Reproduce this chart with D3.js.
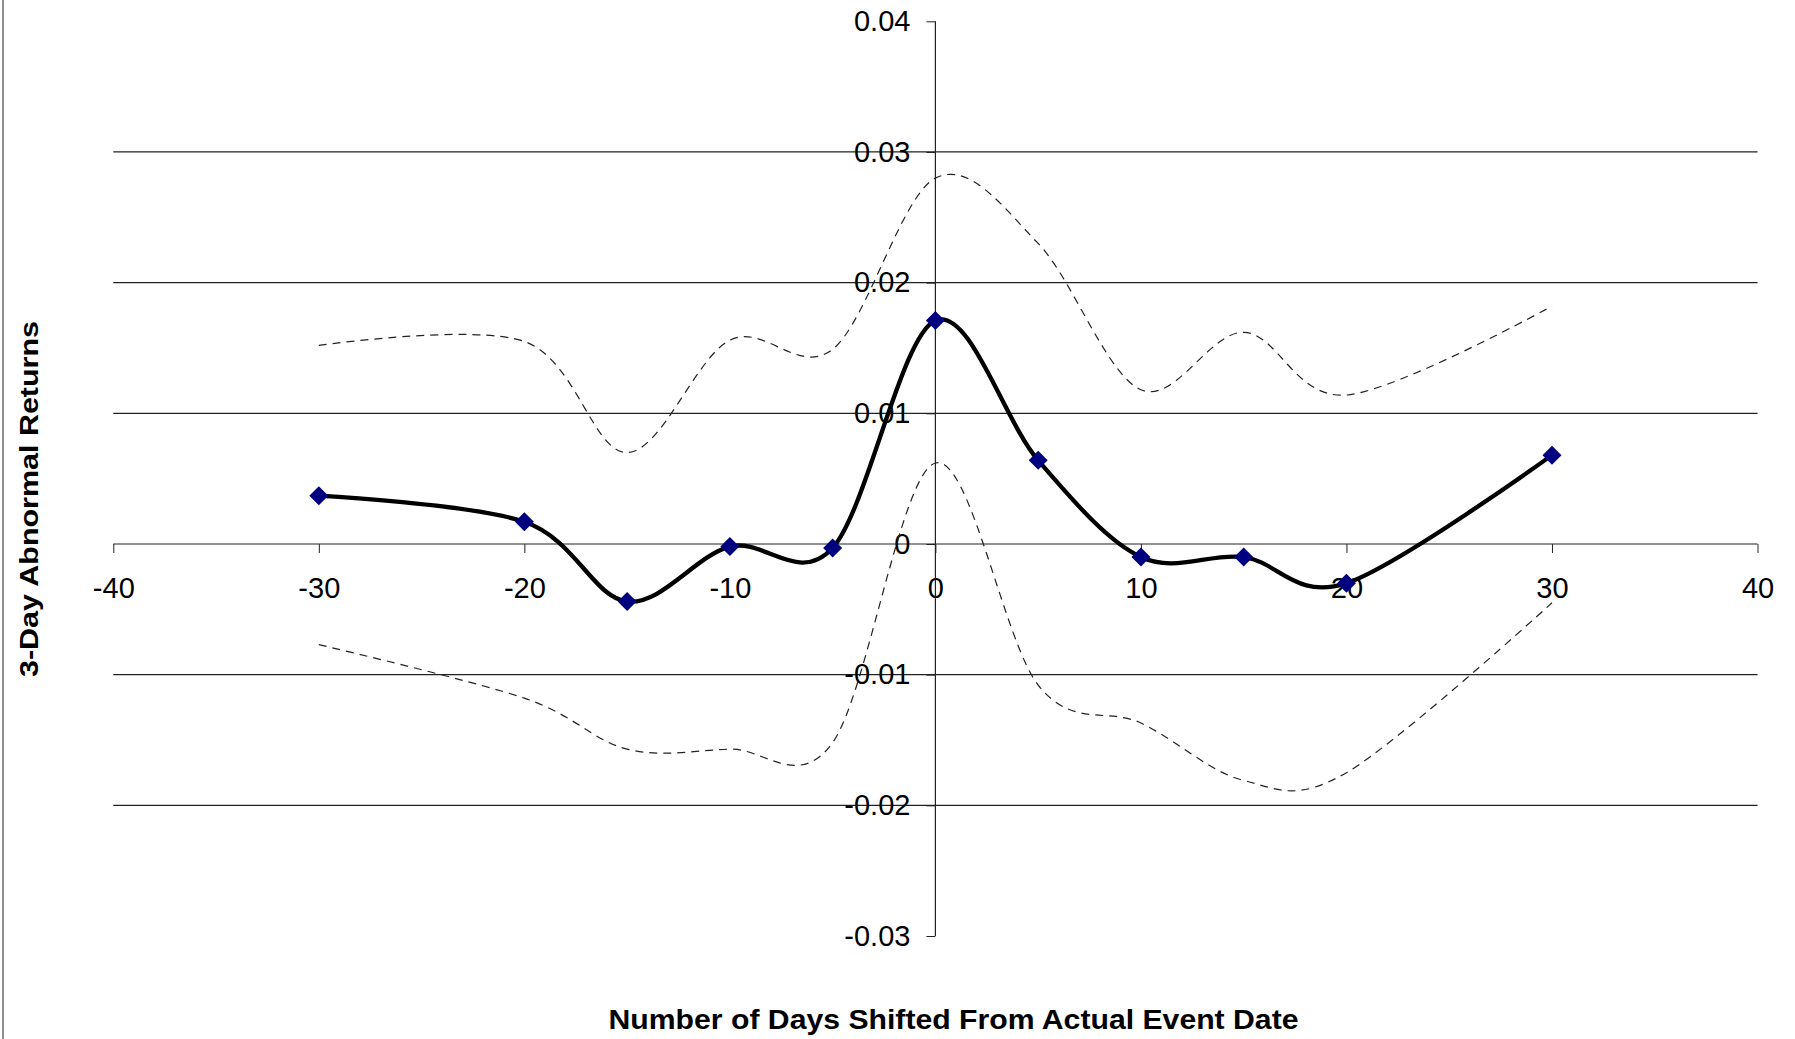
<!DOCTYPE html>
<html>
<head>
<meta charset="utf-8">
<script src="https://cdn.jsdelivr.net/npm/d3@7"></script>
<style>
    body { margin: 0; background: white; }
    text { font-family: Arial, "Liberation Sans", sans-serif; fill: black; }
</style>
</head>
<body>
<div id="chart"></div>
<script>
// days shifted from the event date
let days = [-30, -20, -15, -10, -5, 0, 5, 10, 15, 20, 30];
// 3-day abnormal returns (solid line with markers)
let returns = [0.0037, 0.0017, -0.0044, -0.0002, -0.0003, 0.0171, 0.0064, -0.0010, -0.0010, -0.0030, 0.0068];
// upper and lower bands (dashed)
let upper = [0.0152, 0.0155, 0.0070, 0.0156, 0.0149, 0.0280, 0.0230, 0.0118, 0.0162, 0.0114, 0.0182];
let lower = [-0.0077, -0.0118, -0.0157, -0.0157, -0.0152, 0.0062, -0.0108, -0.0137, -0.0181, -0.0175, -0.0045];

let xTicks = [-40, -30, -20, -10, 0, 10, 20, 30, 40];
let yTicks = [-0.03, -0.02, -0.01, 0, 0.01, 0.02, 0.03, 0.04];

let width = 1795, height = 1039;

let svg = d3.select("#chart").append("svg")
    .attr("width", width)
    .attr("height", height);

let x = d3.scaleLinear().domain([-40, 40]).range([113.3, 1757.5]);
let y = d3.scaleLinear().domain([-0.03, 0.04]).range([936, 21.3]);

// left border of the chart area
svg.append("line")
    .attr("x1", 3).attr("x2", 3)
    .attr("y1", 0).attr("y2", height)
    .style("stroke", "#444").style("stroke-width", 1.2);

// horizontal gridlines
svg.append("g").selectAll("line")
    .data(yTicks.filter(d => d !== 0 && d !== 0.04 && d !== -0.03))
    .enter().append("line")
    .attr("x1", x(-40)).attr("x2", x(40))
    .attr("y1", d => y(d)).attr("y2", d => y(d))
    .style("stroke", "#222").style("stroke-width", 1.2);

// x axis crosses at zero (plain hyphen for negatives, like the original)
let xAxis = d3.axisBottom(x).tickValues(xTicks).tickSize(9).tickPadding(8).tickFormat(d => String(d));
let gx = svg.append("g").attr("transform", "translate(0," + y(0) + ")").call(xAxis);
gx.select(".domain").attr("d", "M" + x(-40) + ",0H" + x(40)).style("stroke", "#222").style("stroke-width", 1.2);
gx.selectAll(".tick line").style("stroke", "#222");
gx.selectAll(".tick text")
    .attr("y", 54).attr("dy", null)
    .style("font-size", "29px").style("font-family", "Arial, 'Liberation Sans', sans-serif");

// y axis crosses at zero
let yAxis = d3.axisLeft(y).tickValues(yTicks).tickSize(9).tickPadding(16)
    .tickFormat(d => d === 0 ? "0" : d.toFixed(2));
let gy = svg.append("g").attr("transform", "translate(" + x(0) + ",0)").call(yAxis);
gy.select(".domain").attr("d", "M0," + y(0.04) + "V" + y(-0.03)).style("stroke", "#222").style("stroke-width", 1.2);
gy.selectAll(".tick line").style("stroke", "#222");
gy.selectAll(".tick text")
    .style("font-size", "29px").style("font-family", "Arial, 'Liberation Sans', sans-serif");

// smoothed lines like excel
let line = d3.line()
    .x(d => x(d[0]))
    .y(d => y(d[1]))
    .curve(d3.curveCardinal.tension(0));

[upper, lower].forEach(band => {
    svg.append("path")
        .datum(days.map((d, i) => [d, band[i]]))
        .attr("d", line)
        .style("fill", "none")
        .style("stroke", "#222")
        .style("stroke-width", 1.2)
        .style("stroke-dasharray", "8,6");
});

let pts = days.map((d, i) => [d, returns[i]]);
svg.append("path")
    .datum(pts)
    .attr("d", line)
    .style("fill", "none")
    .style("stroke", "black")
    .style("stroke-width", 4.3);

// diamond markers
svg.append("g").selectAll("path")
    .data(pts)
    .enter().append("path")
    .attr("transform", d => "translate(" + x(d[0]) + "," + y(d[1]) + ")")
    .attr("d", "M0,-9.5L9.5,0L0,9.5L-9.5,0Z")
    .style("fill", "#000080");

// axis titles
svg.append("text")
    .attr("x", 953.5).attr("y", 1039 - 10)
    .attr("text-anchor", "middle")
    .attr("textLength", 690).attr("lengthAdjust", "spacingAndGlyphs")
    .style("font-size", "28px").style("font-weight", "bold")
    .text("Number of Days Shifted From Actual Event Date");

svg.append("text")
    .attr("transform", "translate(38,499) rotate(-90)")
    .attr("text-anchor", "middle")
    .attr("textLength", 356).attr("lengthAdjust", "spacingAndGlyphs")
    .style("font-size", "26px").style("font-weight", "bold")
    .text("3-Day Abnormal Returns");
</script>
</body>
</html>
